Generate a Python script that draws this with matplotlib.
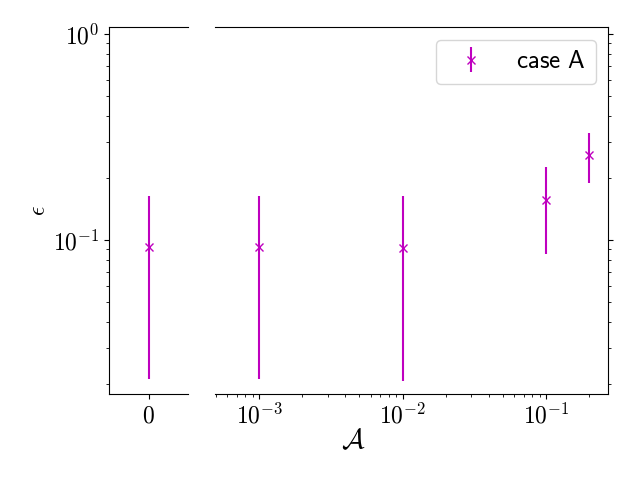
import matplotlib
matplotlib.use("Agg")
import matplotlib.pyplot as plt
import matplotlib.ticker as mticker
import numpy as np

plt.rcParams['mathtext.fontset'] = 'cm'
plt.rcParams['font.family'] = 'DejaVu Sans'

# data
x_zero = [0]
y_zero = [0.0925]
lo_zero = [0.0211]
hi_zero = [0.164]

A_vals = [1e-3, 1e-2, 1e-1, 2e-1]
eps_vals = [0.0925, 0.0914, 0.156, 0.258]
eps_lo = [0.0211, 0.0208, 0.0855, 0.189]
eps_hi = [0.164, 0.164, 0.226, 0.330]

color = 'm'

def logfmt(v, pos):
    if v <= 0:
        return ''
    e = int(round(np.log10(v)))
    if abs(np.log10(v) - e) > 1e-6:
        return ''
    return r'$10^{%d}$' % e

fig = plt.figure(figsize=(6.4, 4.8), dpi=100)
ax1 = fig.add_axes([109/640, 86/480, 79/640, 367/480])
ax2 = fig.add_axes([215/640, 86/480, 393/640, 367/480], sharey=ax1)

yerr0 = [np.array(y_zero) - np.array(lo_zero), np.array(hi_zero) - np.array(y_zero)]
ax1.errorbar(x_zero, y_zero, yerr=yerr0, fmt='x', color=color)
yerr = [np.array(eps_vals) - np.array(eps_lo), np.array(eps_hi) - np.array(eps_vals)]
ax2.errorbar(A_vals, eps_vals, yerr=yerr, fmt='x', color=color, label=r'$\mathsf{case\ A}$')

ax1.set_yscale('log')
ax1.set_ylim(0.0179, 1.08)
ax1.set_xlim(-0.5, 0.5)
ax1.set_xticks([0])
ax1.set_xticklabels([r'$0$'])
ax1.spines['right'].set_visible(False)
fig.text(38/640, 1 - 211/480, r'$\epsilon$', fontsize=17, rotation=90,
         ha='center', va='center')

ax2.set_xscale('log')
ax2.set_xlim(4.93e-4, 0.27)
ax2.spines['left'].set_visible(False)
ax2.yaxis.tick_right()
ax2.tick_params(axis='y', which='both', labelright=False)
fig.text(353/640, 1 - 440/480, r'$\mathcal{A}$', fontsize=20, ha='center', va='center')

for ax in (ax1, ax2):
    ax.tick_params(labelsize=17)
ax1.yaxis.set_major_formatter(mticker.FuncFormatter(logfmt))
ax2.xaxis.set_major_formatter(mticker.FuncFormatter(logfmt))

ax2.legend(loc='upper right', fontsize=18)

fig.savefig('out.png', dpi=100)
